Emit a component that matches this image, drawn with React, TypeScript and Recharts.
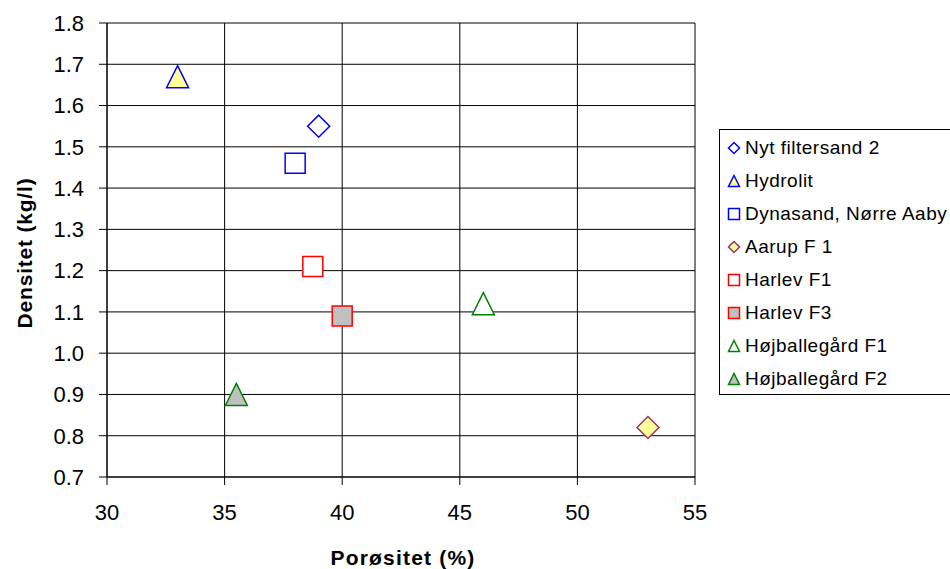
import React from "react";
import {
  CartesianGrid,
  Legend,
  Scatter,
  ScatterChart,
  XAxis,
  YAxis,
} from "recharts";

const seriesNames = [
  "Nyt filtersand 2",
  "Hydrolit",
  "Dynasand, Nørre Aaby",
  "Aarup F 1",
  "Harlev F1",
  "Harlev F3",
  "Højballegård F1",
  "Højballegård F2",
];
const porosity = [39.0, 33.0, 38.0, 53.0, 38.75, 40.0, 46.0, 35.5];
const density = [1.55, 1.67, 1.46, 0.82, 1.21, 1.09, 1.12, 0.9];

const xTicks = [30, 35, 40, 45, 50, 55];
const yTicks = [0.7, 0.8, 0.9, 1.0, 1.1, 1.2, 1.3, 1.4, 1.5, 1.6, 1.7, 1.8];

type Shape = "diamond" | "triangle" | "square";
const seriesStyle: { shape: Shape; stroke: string; fill: string }[] = [
  { shape: "diamond", stroke: "#0000ff", fill: "#ffffff" },
  { shape: "triangle", stroke: "#0000ff", fill: "#ffff99" },
  { shape: "square", stroke: "#0000ff", fill: "#ffffff" },
  { shape: "diamond", stroke: "#993366", fill: "#ffff99" },
  { shape: "square", stroke: "#ff0000", fill: "#ffffff" },
  { shape: "square", stroke: "#ff0000", fill: "#c0c0c0" },
  { shape: "triangle", stroke: "#008000", fill: "#ffffff" },
  { shape: "triangle", stroke: "#008000", fill: "#c0c0c0" },
];

const FONT = '"Liberation Sans", Arial, sans-serif';

function markerPath(shape: Shape, cx: number, cy: number, s: number) {
  const h = s / 2;
  if (shape === "diamond") {
    return `M${cx},${cy - h}L${cx + h},${cy}L${cx},${cy + h}L${cx - h},${cy}Z`;
  }
  if (shape === "triangle") {
    return `M${cx},${cy - h}L${cx + h},${cy + h}L${cx - h},${cy + h}Z`;
  }
  return `M${cx - h},${cy - h}L${cx + h},${cy - h}L${cx + h},${cy + h}L${cx - h},${cy + h}Z`;
}

function makeShape(i: number) {
  const st = seriesStyle[i];
  return (props: any) => {
    const { cx, cy } = props;
    if (cx == null || cy == null) return <g />;
    const size = st.shape === "square" ? 20 : 22;
    return (
      <path
        d={markerPath(st.shape, cx, cy, size)}
        fill={st.fill}
        stroke={st.stroke}
        strokeWidth={1.5}
      />
    );
  };
}

function LegendBox() {
  return (
    <div
      style={{
        border: "1px solid #000",
        borderRight: "none",
        background: "#fff",
        width: 240,
        height: 266,
        boxSizing: "border-box",
        paddingTop: 1,
        fontFamily: FONT,
        fontSize: 19,
        letterSpacing: 0.5,
        color: "#000",
      }}
    >
      {seriesNames.map((name, i) => (
        <div
          key={name}
          style={{ display: "flex", alignItems: "center", height: 33, whiteSpace: "nowrap" }}
        >
          <svg width={14} height={14} style={{ marginLeft: 7, marginRight: 4 }}>
            <path
              d={markerPath(seriesStyle[i].shape, 7, 7, 11)}
              fill={seriesStyle[i].fill}
              stroke={seriesStyle[i].stroke}
              strokeWidth={1.5}
            />
          </svg>
          <span>{name}</span>
        </div>
      ))}
    </div>
  );
}

const titleStyle = { fontWeight: "bold", fontSize: 21, fill: "#000", fontFamily: FONT };

export default function App() {
  const series = seriesNames.map((name, i) => ({
    name,
    data: [{ x: porosity[i], y: density[i] }],
  }));

  return (
    <div style={{ position: "absolute", left: 0, top: 0, width: 950, height: 569, background: "#fff" }}>
      <ScatterChart
        width={950}
        height={569}
        margin={{ top: 23, right: 255, bottom: 32, left: 27 }}
        style={{ fontFamily: FONT }}
      >
        <CartesianGrid stroke="#000" strokeWidth={1} />
        <XAxis
          type="number"
          dataKey="x"
          domain={[30, 55]}
          ticks={xTicks}
          allowDataOverflow
          stroke="#000"
          tickSize={8}
          tick={{ fill: "#000", fontSize: 22 }}
          tickMargin={19}
          height={60}
          label={{
            content: () => (
              <text
                x={403}
                y={565}
                textAnchor="middle"
                letterSpacing={1.2}
                style={titleStyle}
              >
                Porøsitet (%)
              </text>
            ),
          }}
        />
        <YAxis
          type="number"
          dataKey="y"
          domain={[0.7, 1.8]}
          ticks={yTicks}
          allowDataOverflow
          stroke="#000"
          tickSize={8}
          tickFormatter={(v: number) => v.toFixed(1)}
          tick={{ fill: "#000", fontSize: 22 }}
          tickMargin={15}
          width={80}
          label={{
            content: () => (
              <text
                x={32}
                y={253}
                transform="rotate(-90 32 253)"
                textAnchor="middle"
                letterSpacing={0.8}
                style={titleStyle}
              >
                Densitet (kg/l)
              </text>
            ),
          }}
        />
        {series.map((s, i) => (
          <Scatter
            key={s.name}
            name={s.name}
            data={s.data}
            shape={makeShape(i)}
            isAnimationActive={false}
          />
        ))}
        <Legend
          layout="horizontal"
          verticalAlign="middle"
          align="center"
          wrapperStyle={{ left: 719, top: 129, width: 240 }}
          content={() => <LegendBox />}
        />
      </ScatterChart>
    </div>
  );
}
